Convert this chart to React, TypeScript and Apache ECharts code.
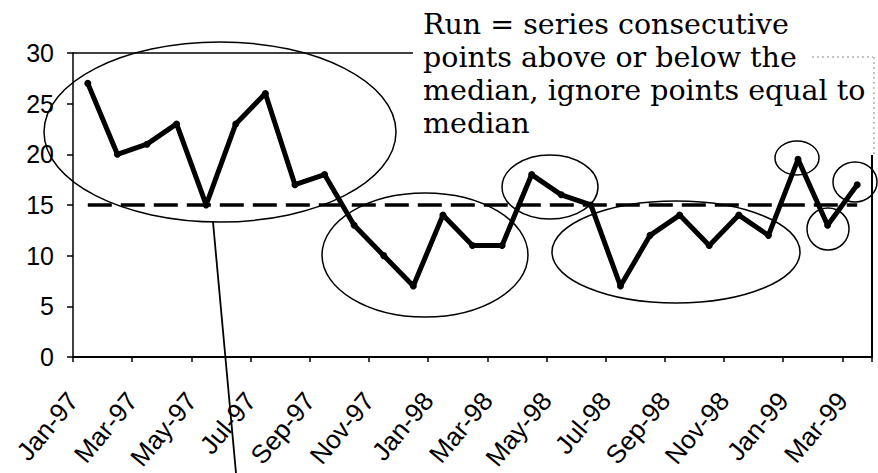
import React, { useEffect, useRef } from "react";
import * as echarts from "echarts";

const months = [
  "Jan-97", "Feb-97", "Mar-97", "Apr-97", "May-97", "Jun-97", "Jul-97", "Aug-97", "Sep-97",
  "Oct-97", "Nov-97", "Dec-97", "Jan-98", "Feb-98", "Mar-98", "Apr-98", "May-98", "Jun-98",
  "Jul-98", "Aug-98", "Sep-98", "Oct-98", "Nov-98", "Dec-98", "Jan-99", "Feb-99", "Mar-99",
];
const values = [27, 20, 21, 23, 15, 23, 26, 17, 18, 13, 10, 7, 14, 11, 11, 18, 16, 15, 7, 12, 14, 11, 14, 12, 19.5, 13, 17];
const MEDIAN = 15;
const Y_MIN = 0;
const Y_MAX = 30;
const Y_STEP = 5;
const noteLines = [
  "Run = series consecutive",
  "points above or below the",
  "median, ignore points equal to",
  "median",
];
// annotation ellipses (pixel space): cx, cy, rx, ry
const ellipses = [
  [220, 132, 176, 90],
  [425, 255, 103, 62],
  [550, 187, 48, 32],
  [676, 252, 124, 51],
  [797, 158, 22, 17],
  [828, 229, 21, 21],
  [855, 182, 22, 20],
];

export default function App() {
  const ref = useRef<HTMLDivElement>(null);
  useEffect(() => {
    if (!ref.current) return;
    const chart = echarts.init(ref.current, null, { renderer: "svg" });
    const sans = '"Liberation Sans", Arial, sans-serif';
    const graphic: any[] = [];
    ellipses.forEach(([cx, cy, rx, ry]) => {
      graphic.push({
        type: "ellipse",
        shape: { cx, cy, rx, ry },
        style: { fill: "none", stroke: "#000", lineWidth: 1.5 },
        z: 100,
      });
    });
    graphic.push(
      { type: "line", shape: { x1: 213, y1: 222, x2: 236, y2: 473 }, style: { stroke: "#000", lineWidth: 1.8 }, z: 100 },
      { type: "line", shape: { x1: 73, y1: 53, x2: 413, y2: 53 }, style: { stroke: "#000", lineWidth: 1.5 }, z: 100 },
      { type: "line", shape: { x1: 812, y1: 57, x2: 873, y2: 57 }, style: { stroke: "#888", lineWidth: 1, lineDash: [2, 3] }, z: 100 },
      { type: "line", shape: { x1: 874, y1: 57, x2: 874, y2: 155 }, style: { stroke: "#888", lineWidth: 1, lineDash: [2, 3] }, z: 100 },
      { type: "line", shape: { x1: 872, y1: 155, x2: 872, y2: 357 }, style: { stroke: "#000", lineWidth: 2 }, z: 100 },
      {
        type: "text",
        x: 423,
        y: 8,
        style: {
          text: noteLines.join("\n"),
          font: '28.5px "DejaVu Serif", serif',
          lineHeight: 33,
          fill: "#000",
        },
        z: 110,
      }
    );
    chart.setOption({
      animation: false,
      backgroundColor: "#fff",
      grid: { left: 73, right: 6, top: 53, bottom: 116 },
      xAxis: [
        {
          type: "category",
          data: months,
          boundaryGap: true,
          axisLine: { show: true, lineStyle: { color: "#000", width: 2 } },
          axisTick: { show: true, interval: 1, length: 5, lineStyle: { color: "#000", width: 1.5 } },
          axisLabel: { show: false },
          splitLine: { show: false },
        },
        {
          type: "category",
          data: [...months, ""],
          boundaryGap: false,
          position: "bottom",
          axisLine: { show: false },
          axisTick: { show: false },
          splitLine: { show: false },
          axisLabel: {
            interval: 1,
            rotate: 50,
            margin: 39,
            fontSize: 26,
            fontFamily: sans,
            color: "#000",
          },
        },
      ],
      yAxis: {
        type: "value",
        min: Y_MIN,
        max: Y_MAX,
        interval: Y_STEP,
        axisLine: { show: true, lineStyle: { color: "#000", width: 1.5 } },
        axisTick: { show: true, length: 6, lineStyle: { color: "#000", width: 1.5 } },
        axisLabel: { fontSize: 25, fontFamily: sans, color: "#000", margin: 19 },
        splitLine: { show: false },
      },
      series: [
        {
          type: "line",
          data: values,
          xAxisIndex: 0,
          symbol: "circle",
          symbolSize: 7,
          showSymbol: true,
          lineStyle: { color: "#000", width: 5 },
          itemStyle: { color: "#000" },
          z: 5,
          markLine: {
            silent: true,
            symbol: "none",
            label: { show: false },
            lineStyle: { color: "#000", width: 3.5, type: [24, 9] },
            data: [[{ xAxis: 0, yAxis: MEDIAN }, { xAxis: months.length - 1, yAxis: MEDIAN }]],
          },
        },
      ],
      graphic,
    });
    return () => chart.dispose();
  }, []);
  return (
    <div
      ref={ref}
      style={{ position: "fixed", left: 0, top: 0, width: 878, height: 473, background: "#fff" }}
    />
  );
}
